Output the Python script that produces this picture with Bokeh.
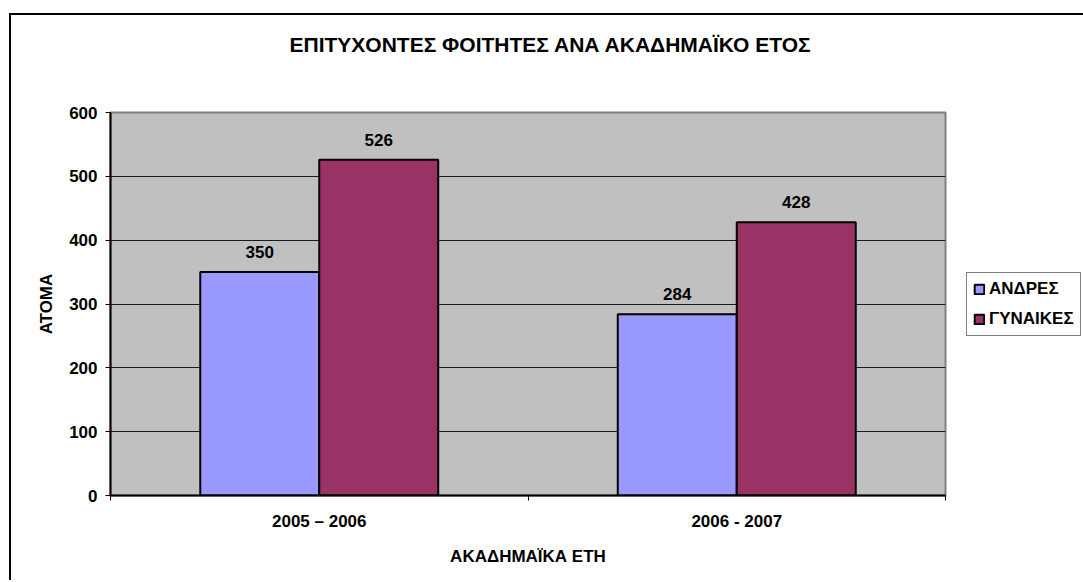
from bokeh.plotting import figure
from bokeh.layouts import column
from bokeh.models import (ColumnDataSource, Range1d, FixedTicker, Legend, LegendItem, Title)
from bokeh.transform import dodge
from bokeh.core.properties import value
from bokeh.embed import file_html
from bokeh.resources import INLINE

# ---- data ----
years = ["2005 – 2006", "2006 - 2007"]
andres = [350, 284]
gynaikes = [526, 428]
series_names = ["ΑΝΔΡΕΣ", "ΓΥΝΑΙΚΕΣ"]
y_ticks = [0, 100, 200, 300, 400, 500, 600]

title_text = "ΕΠΙΤΥΧΟΝΤΕΣ ΦΟΙΤΗΤΕΣ ΑΝΑ ΑΚΑΔΗΜΑΪΚΟ ΕΤΟΣ"
x_label = "ΑΚΑΔΗΜΑΪΚΑ ΕΤΗ"
y_label = "ΑΤΟΜΑ"

FONT = "Liberation Sans"
BLUE = "#9999FF"
MAROON = "#993366"
GRAY = "#C0C0C0"

n = len(years)
# category slot centres (category index + half a slot)
centres = [i + 0.5 for i in range(n)]

source = ColumnDataSource(dict(
    xc=centres,
    years=years,
    andres=andres,
    gynaikes=gynaikes,
    andres_txt=[str(v) for v in andres],
    gynaikes_txt=[str(v) for v in gynaikes],
))

p = figure(
    frame_width=835, frame_height=383,
    x_range=Range1d(0, n),
    y_range=Range1d(y_ticks[0], y_ticks[-1]),
    title_location=None,
    output_backend="svg", toolbar_location=None, tools="",
    min_border_left=99, min_border_right=136, min_border_top=97, min_border_bottom=85,
    background_fill_color=GRAY, border_fill_color="white",
)
p.outline_line_color = "#808080"
p.outline_line_width = 2

# title: a spacer next to the frame, then the real title above it
spacer = Title(text=" ", text_font_size="2px", standoff=53, text_color="white")
p.add_layout(spacer, "above")
main_title = Title(text=title_text, text_font=FONT, text_font_size="21px",
                   text_font_style="bold", text_color="black",
                   align="left", offset=179, standoff=0, vertical_align="bottom")
p.add_layout(main_title, "above")

# grid
p.xgrid.visible = False
p.ygrid.ticker = FixedTicker(ticks=y_ticks[1:-1])
p.ygrid.grid_line_color = "#1a1a1a"
p.ygrid.grid_line_width = 1

# y axis
ya = p.yaxis[0]
ya.ticker = FixedTicker(ticks=y_ticks)
ya.axis_label = y_label
ya.axis_label_text_font = FONT
ya.axis_label_text_font_size = "17px"
ya.axis_label_text_font_style = "bold"
ya.axis_label_text_color = "black"
ya.axis_label_standoff = 10
ya.major_label_text_font = FONT
ya.major_label_text_font_size = "17px"
ya.major_label_text_font_style = "bold"
ya.major_label_text_color = "black"
ya.major_label_standoff = 8
ya.major_tick_out = 5
ya.major_tick_in = 0
ya.minor_tick_line_color = None
ya.axis_line_color = "black"
ya.axis_line_width = 2
ya.major_tick_line_color = "black"

# x axis: labels at slot centres, tick marks at slot boundaries
xa = p.xaxis[0]
xa.ticker = FixedTicker(ticks=centres, minor_ticks=[i for i in range(n + 1)])
xa.major_label_overrides = {c: years[i] for i, c in enumerate(centres)}
xa.axis_label = x_label
xa.axis_label_text_font = FONT
xa.axis_label_text_font_size = "17px"
xa.axis_label_text_font_style = "bold"
xa.axis_label_text_color = "black"
xa.axis_label_standoff = 13
xa.major_label_text_font = FONT
xa.major_label_text_font_size = "17px"
xa.major_label_text_font_style = "bold"
xa.major_label_text_color = "black"
xa.major_label_standoff = 11
xa.major_tick_line_color = None
xa.major_tick_out = 0
xa.major_tick_in = 0
xa.minor_tick_out = 5
xa.minor_tick_in = 0
xa.minor_tick_line_color = "black"
xa.axis_line_color = "black"
xa.axis_line_width = 2

# bars
bw = 0.285
r1 = p.vbar(x=dodge("xc", -bw / 2), top="andres", width=bw, source=source,
            fill_color=BLUE, line_color="black", line_width=2)
r2 = p.vbar(x=dodge("xc", bw / 2), top="gynaikes", width=bw, source=source,
            fill_color=MAROON, line_color="black", line_width=2)

# value labels
for col, off in (("andres", -bw / 2), ("gynaikes", bw / 2)):
    p.text(x=dodge("xc", off), y=col, text=col + "_txt", source=source,
           text_font=value(FONT), text_font_size="17px", text_font_style="bold",
           text_align="center", text_baseline="middle", y_offset=-20, text_color="black")

# legend in the right panel, vertically centred on the frame
legend = Legend(
    items=[LegendItem(label=series_names[0], renderers=[r1]),
           LegendItem(label=series_names[1], renderers=[r2])],
    location="left",
    label_text_font=FONT, label_text_font_size="17px", label_text_font_style="bold",
    label_text_color="black",
    glyph_width=12, glyph_height=12, label_standoff=4,
    spacing=10, padding=6, margin=21,
    border_line_color="black", border_line_width=1,
    background_fill_color="white", background_fill_alpha=1,
)
p.add_layout(legend, "right")

page = column(p, styles={"margin-left": "9px", "margin-top": "13px",
                         "border-left": "2px solid black", "border-top": "2px solid black"})

open("out.html", "w").write(file_html(page, INLINE))
